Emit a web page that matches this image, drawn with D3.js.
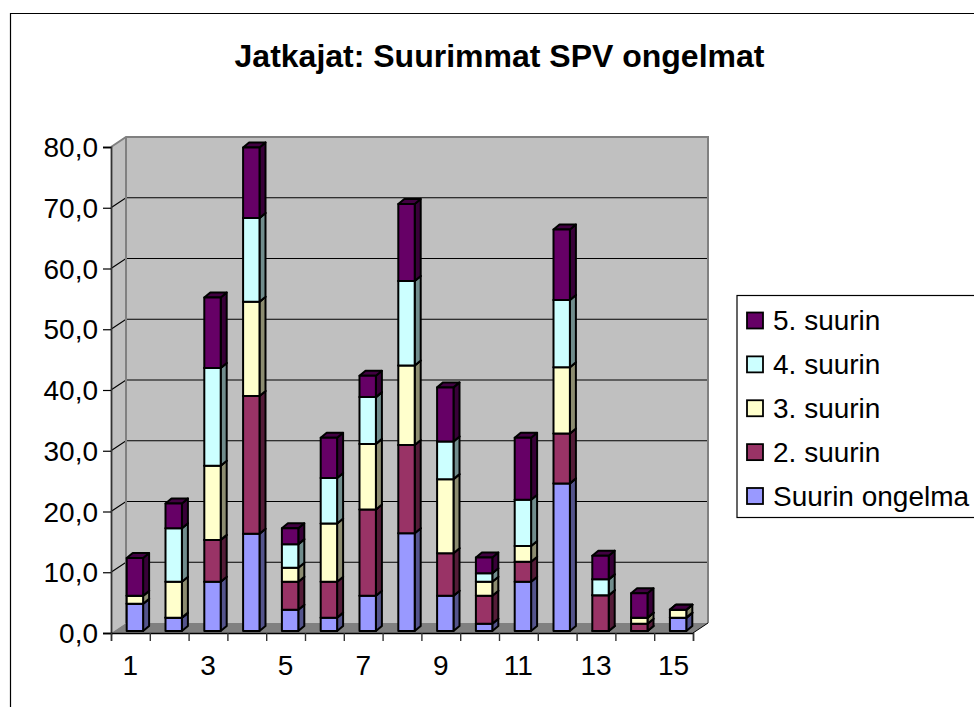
<!DOCTYPE html>
<html>
<head>
<meta charset="utf-8">
<title>Jatkajat: Suurimmat SPV ongelmat</title>
<script src="https://cdn.jsdelivr.net/npm/d3@7"></script>
<style>
    html, body { margin: 0; padding: 0; background: #fff; overflow: hidden; }
    svg { display: block; }
    text { font-family: "Liberation Sans", Arial, sans-serif; fill: #000; }
</style>
</head>
<body>
<div id="chart"></div>
<script>
var title = "Jatkajat: Suurimmat SPV ongelmat";
var categories = [1, 2, 3, 4, 5, 6, 7, 8, 9, 10, 11, 12, 13, 14, 15];
var yTicks = [0, 10, 20, 30, 40, 50, 60, 70, 80];
var xLabels = [1, 3, 5, 7, 9, 11, 13, 15];
var seriesNames = ["Suurin ongelma", "2. suurin", "3. suurin", "4. suurin", "5. suurin"];
var seriesColors = ["#9999ff", "#993366", "#ffffcc", "#ccffff", "#660066"];

var suurin = [4.5, 2.2, 8.1, 16.0, 3.5, 2.2, 5.8, 16.1, 5.8, 1.2, 8.1, 24.3, 0, 0, 2.2];
var suurin2 = [0, 0, 6.9, 22.7, 4.6, 5.9, 14.2, 14.5, 7.0, 4.6, 3.3, 8.2, 5.9, 1.2, 0];
var suurin3 = [1.3, 5.9, 12.2, 15.5, 2.3, 9.6, 10.8, 13.1, 12.2, 2.3, 2.6, 10.9, 0, 1.0, 1.3];
var suurin4 = [0, 8.8, 16.1, 13.8, 3.9, 7.5, 7.7, 13.9, 6.2, 1.4, 7.6, 11.1, 2.6, 0, 0];
var suurin5 = [6.2, 4.1, 11.6, 11.6, 2.6, 6.6, 3.5, 12.7, 8.9, 2.6, 10.2, 11.6, 3.9, 4.0, 0];

(function(){
    'use strict';

    var width = 974,
        height = 707,
        plot = { left: 111, right: 693, top: 147, bottom: 633 },
        depth = { x: 15, y: 10 },
        bar = { offset: 15.7, width: 16.4, dx: 6, dy: 5, lift: 2 };

    var svg = d3.select("#chart").append("svg")
        .attr("width", width)
        .attr("height", height);

    var x = d3.scaleBand().domain(categories).range([plot.left, plot.right]);
    var xEdge = d3.scaleLinear().domain([0, categories.length]).range([plot.left, plot.right]);
    var y = d3.scaleLinear().domain([0, 80]).range([plot.bottom, plot.top]);

    function pts(list) {
        return list.map(function (p) { return p.join(","); }).join(" ");
    }

    function darker(color, k) {
        var c = d3.rgb(color);
        return d3.rgb(c.r * k, c.g * k, c.b * k).formatHex();
    }

    function label(parent, str, px, py, size, anchor, weight) {
        return parent.append("text")
            .text(str)
            .attr("x", px)
            .attr("y", py)
            .style("font-size", size + "px")
            .style("font-weight", weight || "normal")
            .style("text-anchor", anchor || "start");
    }

    // frame, only left and top are inside the picture
    svg.append("path")
        .attr("d", "M10.5,707V13.5H974")
        .attr("fill", "none")
        .attr("stroke", "#000")
        .attr("stroke-width", 1.2);

    label(svg, title, 499.5, 67, 32, "middle", "bold");

    // walls and floor
    var backLeft = plot.left + depth.x,
        backRight = plot.right + depth.x,
        backTop = plot.top - depth.y,
        backBottom = plot.bottom - depth.y;

    svg.append("polygon")
        .attr("points", pts([[plot.left, plot.top], [backLeft, backTop], [backLeft, backBottom], [plot.left, plot.bottom]]))
        .attr("fill", "#c0c0c0");
    svg.append("rect")
        .attr("x", backLeft)
        .attr("y", backTop)
        .attr("width", backRight - backLeft)
        .attr("height", backBottom - backTop)
        .attr("fill", "#c0c0c0");
    svg.append("polygon")
        .attr("points", pts([[plot.left, plot.bottom], [backLeft, backBottom], [backRight, backBottom], [plot.right, plot.bottom]]))
        .attr("fill", "#808080");

    // gridlines run over the side wall and the back wall
    svg.selectAll(".grid")
        .data(yTicks.filter(function (d) { return d > 0 && d < 80; }))
        .enter().append("polyline")
        .attr("class", "grid")
        .attr("points", function (d) {
            return pts([[plot.left, y(d)], [backLeft, y(d) - depth.y], [backRight, y(d) - depth.y]]);
        })
        .attr("fill", "none")
        .attr("stroke", "#000")
        .attr("stroke-width", 1.2);

    svg.append("polyline")
        .attr("points", pts([[plot.left, plot.top], [backLeft, backTop], [backRight, backTop], [backRight, backBottom]]))
        .attr("fill", "none")
        .attr("stroke", "#808080")
        .attr("stroke-width", 2);
    svg.append("line")
        .attr("x1", backLeft).attr("x2", backLeft)
        .attr("y1", backTop).attr("y2", backBottom)
        .attr("stroke", "#808080")
        .attr("stroke-width", 2);
    svg.append("line")
        .attr("x1", plot.right).attr("x2", backRight)
        .attr("y1", plot.bottom).attr("y2", backBottom)
        .attr("stroke", "#000")
        .attr("stroke-width", 1);

    // axes
    var yAxis = svg.append("g")
        .attr("transform", "translate(" + plot.left + ",0)")
        .call(d3.axisLeft(y).tickValues(yTicks).tickSize(8).tickFormat(""));
    var xAxis = svg.append("g")
        .attr("transform", "translate(0," + plot.bottom + ")")
        .call(d3.axisBottom(xEdge).tickValues(d3.range(categories.length + 1)).tickSize(8).tickFormat(""));

    yAxis.select(".domain").attr("stroke", "#333").attr("stroke-width", 1.8);
    xAxis.select(".domain").attr("stroke", "#000").attr("stroke-width", 1.4);
    yAxis.selectAll("line").attr("stroke", "#000").attr("stroke-width", 1.2);
    xAxis.selectAll("line").attr("stroke", "#333").attr("stroke-width", 1.4);

    yTicks.forEach(function (d) {
        label(svg, d3.format(".1f")(d).replace(".", ","), 98, y(d) + 10, 28, "end");
    });
    xLabels.forEach(function (d) {
        label(svg, d, x(d) + x.bandwidth() / 2, 675, 28, "middle");
    });

    // stacked 3d bars, every series is drawn even at zero height
    var rows = categories.map(function (c, i) {
        return {
            category: c,
            s0: suurin[i],
            s1: suurin2[i],
            s2: suurin3[i],
            s3: suurin4[i],
            s4: suurin5[i]
        };
    });
    var stacked = d3.stack().keys(["s0", "s1", "s2", "s3", "s4"])(rows);

    var segments = [];
    categories.forEach(function (c, i) {
        stacked.forEach(function (s, k) {
            segments.push({ category: c, low: s[i][0], high: s[i][1], color: seriesColors[k] });
        });
    });

    var groups = svg.selectAll(".segment")
        .data(segments)
        .enter().append("g")
        .attr("class", "segment")
        .attr("stroke", "#000")
        .attr("stroke-width", 2)
        .attr("stroke-linejoin", "round");

    function left(d) { return x(d.category) + bar.offset; }
    function top(d) { return y(d.high) - bar.lift; }
    function bottom(d) { return y(d.low) - bar.lift; }

    groups.append("polygon")
        .attr("points", function (d) {
            var r = left(d) + bar.width;
            return pts([[r, top(d)], [r + bar.dx, top(d) - bar.dy], [r + bar.dx, bottom(d) - bar.dy], [r, bottom(d)]]);
        })
        .attr("fill", function (d) { return darker(d.color, 0.55); });
    groups.append("polygon")
        .attr("points", function (d) {
            var l = left(d), r = l + bar.width;
            return pts([[l, top(d)], [l + bar.dx, top(d) - bar.dy], [r + bar.dx, top(d) - bar.dy], [r, top(d)]]);
        })
        .attr("fill", function (d) { return darker(d.color, 0.65); });
    groups.append("rect")
        .attr("x", left)
        .attr("y", top)
        .attr("width", bar.width)
        .attr("height", function (d) { return bottom(d) - top(d); })
        .attr("fill", function (d) { return d.color; });

    // legend, its box runs off the right edge of the picture
    var legend = svg.append("g");
    legend.append("rect")
        .attr("x", 737)
        .attr("y", 295.5)
        .attr("width", 260)
        .attr("height", 222)
        .attr("fill", "#fff")
        .attr("stroke", "#000")
        .attr("stroke-width", 1.2);

    var legendY = d3.scalePoint()
        .domain(seriesNames.slice().reverse())
        .range([320.5, 496]);

    seriesNames.forEach(function (name, i) {
        legend.append("rect")
            .attr("x", 747)
            .attr("y", legendY(name) - 8)
            .attr("width", 16)
            .attr("height", 16)
            .attr("fill", seriesColors[i])
            .attr("stroke", "#000")
            .attr("stroke-width", 1.8);
        label(legend, name, 773, legendY(name) + 9.5, 28);
    });
})();
</script>
</body>
</html>
